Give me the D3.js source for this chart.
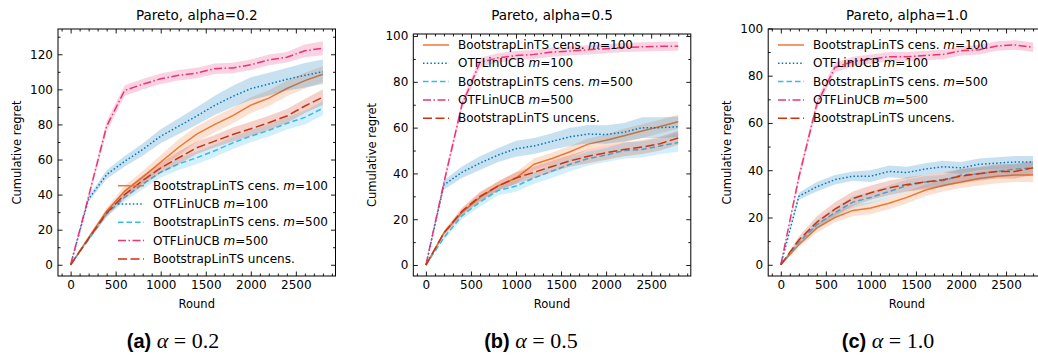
<!DOCTYPE html>
<html>
<head>
<meta charset="utf-8">
<script src="https://cdn.jsdelivr.net/npm/d3@7"></script>
<style>
  body { margin: 0; background: #fff; }
  svg text { font-family: "DejaVu Sans", sans-serif; fill: #000; }
</style>
</head>
<body>
<div id="chart"></div>
<script>
// x values (rounds)
const rounds = [0, 200, 400, 600, 800, 1000, 1200, 1400, 1600, 1800, 2000, 2200, 2400, 2600, 2800];

const seriesNames = ["BootstrapLinTS cens. ", "OTFLinUCB ", "BootstrapLinTS cens. ", "OTFLinUCB ", "BootstrapLinTS uncens."];
const seriesM = ["100", "100", "500", "500", null];
const panelTitles = ["Pareto, alpha=0.2", "Pareto, alpha=0.5", "Pareto, alpha=1.0"];
const captionTags = ["(a)", "(b)", "(c)"];
const captionAlpha = ["0.2", "0.5", "1.0"];

// panel (a) alpha=0.2 : means
const a_censM100 = [0, 15.5, 30.5, 42, 50, 58.5, 67, 74.5, 80, 85, 91, 95, 100.5, 105, 108.6];
const a_otfM100  = [0, 37.5, 51.4, 59, 65.7, 73.3, 79, 84.8, 90.9, 96, 100.4, 103, 105.7, 108, 110];
const a_censM500 = [0, 14.5, 29, 38.5, 46, 52.8, 57.5, 61, 65, 69.5, 73.3, 76.6, 80.6, 84, 89.3];
const a_otfM500  = [0, 39, 79, 99.4, 102.9, 106, 108, 109.3, 111.8, 112.2, 114, 116.8, 118.3, 122, 123.4];
const a_uncens   = [0, 15, 29.5, 40, 48, 55.2, 61, 66.7, 70.5, 74.3, 77.5, 81, 84.8, 90.5, 95.6];
// panel (a) : band half widths
const a_censM100Err = [0, 1, 2, 3, 3.5, 4, 4.5, 4.5, 4.5, 4.5, 4.5, 4.5, 4.5, 4.5, 4.5];
const a_otfM100Err  = [0, 1.5, 2.5, 3, 3.5, 4, 4.5, 5, 5.5, 6, 6.5, 6.5, 6.5, 7, 7];
const a_censM500Err = [0, 1, 2, 2.5, 3, 3, 3.5, 3.5, 3.5, 3.5, 3.5, 3.5, 3.5, 4, 4];
const a_otfM500Err  = [0, 2, 3, 3, 3, 3, 3, 3, 3, 3, 3, 3, 3, 3.5, 4];
const a_uncensErr   = [0, 1, 2, 2.5, 3, 3, 3.5, 3.5, 3.5, 4, 4, 4, 4, 4, 4.5];

// panel (b) alpha=0.5 : means
const b_censM100 = [0, 14, 23, 29.5, 34.5, 38, 44, 46.5, 49.5, 52.8, 54.5, 56.5, 58.5, 60.5, 62.6];
const b_otfM100  = [0, 35, 40.5, 44.5, 48, 50.8, 52, 54, 56, 57.2, 57, 58, 60, 60, 60.4];
const b_censM500 = [0, 12, 21.5, 27.5, 32.5, 34.5, 38, 41, 44, 46.5, 48, 50, 50.5, 52, 53.5];
const b_otfM500  = [0, 36, 70, 88.5, 90.5, 91.5, 92, 93, 93.5, 94, 94.5, 95, 95.3, 95.5, 95.6];
const b_uncens   = [0, 14, 23.5, 30, 34.5, 38, 40.5, 43, 45.5, 47.5, 49, 50.5, 51.5, 53, 55.5];
// panel (b) : band half widths
const b_censM100Err = [0, 1, 1.5, 2, 2, 2.5, 2.5, 2.5, 2.5, 2.5, 2.5, 3, 3, 3, 3];
const b_otfM100Err  = [0, 2, 2.5, 3, 3, 3.5, 3.5, 3.5, 4, 4, 4, 4, 4.5, 4.5, 4.5];
const b_censM500Err = [0, 1, 1.5, 2, 2, 2.5, 2.5, 3, 3, 3, 3, 3.5, 3.5, 3.5, 4];
const b_otfM500Err  = [0, 2, 2, 2, 2, 2, 2, 2, 2, 2, 2, 2, 2, 2, 2];
const b_uncensErr   = [0, 1, 1.5, 2, 2, 2.5, 2.5, 2.5, 2.5, 3, 3, 3, 3, 3, 3];

// panel (c) alpha=1.0 : means
const c_censM100 = [0, 8.5, 15.5, 20, 23, 24, 26, 28.5, 31.5, 33.5, 35, 36.5, 37.5, 38, 38];
const c_otfM100  = [0, 29, 33, 36, 37.5, 37.5, 39.5, 39, 40.5, 41.5, 41, 42.5, 43, 43.5, 43.5];
const c_censM500 = [0, 9.5, 17, 22, 26.5, 28.5, 31, 33.5, 35, 35.5, 38, 38.5, 39.5, 40.5, 41];
const c_otfM500  = [0, 37, 68, 83.5, 86, 87, 88, 88, 88.5, 89, 90.5, 91, 92.6, 93, 92];
const c_uncens   = [0, 10.5, 18, 23.5, 28, 30.5, 32.5, 34, 35, 36, 37.5, 38.5, 39.5, 39.5, 41];
// panel (c) : band half widths
const c_censM100Err = [0, 1, 2, 2, 2.5, 2.5, 2.5, 2.5, 2.5, 2.5, 2.5, 3, 3, 3, 3];
const c_otfM100Err  = [0, 1.5, 2, 2, 2, 2.5, 2.5, 2.5, 2.5, 2.5, 2.5, 2.5, 2.5, 2.5, 2.5];
const c_censM500Err = [0, 1, 2, 2, 2.5, 2.5, 2.5, 2.5, 2.5, 2.5, 2.5, 2.5, 2.5, 2.5, 2.5];
const c_otfM500Err  = [0, 2, 2, 2, 2, 2, 2, 2, 2, 2, 2, 2, 2, 2, 2];
const c_uncensErr   = [0, 1.5, 2.5, 3, 3, 3, 3, 3, 3, 3, 3, 3, 3, 3, 3];

// tick labels
const xTicks = [0, 500, 1000, 1500, 2000, 2500];
const yTicksA = [0, 20, 40, 60, 80, 100, 120];
const yTicksBC = [0, 20, 40, 60, 80, 100];

// Styles (vibrant palette)
const colors = ["#EE7733", "#0077BB", "#33BBEE", "#EE3377", "#CC3311"];
const dashes = [null, "1.5,2.2", "5.5,3", "8,2.5,1.5,2.5", "9,3.5"];

// Layout
const W = 1038, H = 360;
const plotW = 277.5, plotBottom = 276;
const panelLeft = [58, 413.3, 768.2];
const panelTop = [29, 34, 29];
const yDomains = [[-6.4, 134.4], [-4.8, 100.9], [-4.75, 99.75]];
const legendPos = [{ x: 118, y: 185.7 }, { x: 423, y: 45 }, { x: 778, y: 45 }];
const ylabelX = [17, 371.7, 726.7];
const captionX = [173, 531, 888];

const panels = [
    { means: [a_censM100, a_otfM100, a_censM500, a_otfM500, a_uncens],
      errs: [a_censM100Err, a_otfM100Err, a_censM500Err, a_otfM500Err, a_uncensErr], yTicks: yTicksA },
    { means: [b_censM100, b_otfM100, b_censM500, b_otfM500, b_uncens],
      errs: [b_censM100Err, b_otfM100Err, b_censM500Err, b_otfM500Err, b_uncensErr], yTicks: yTicksBC },
    { means: [c_censM100, c_otfM100, c_censM500, c_otfM500, c_uncens],
      errs: [c_censM100Err, c_otfM100Err, c_censM500Err, c_otfM500Err, c_uncensErr], yTicks: yTicksBC }
];

const svg = d3.select("#chart")
    .append("svg")
    .attr("width", W)
    .attr("height", H);

panels.forEach(function (p, pi) {
    const left = panelLeft[pi], top = panelTop[pi];
    const plotH = plotBottom - top;

    const x = d3.scaleLinear().domain([-140, 2940]).range([0, plotW]);
    const y = d3.scaleLinear().domain(yDomains[pi]).range([plotH, 0]);

    const g = svg.append("g").attr("transform", `translate(${left},${top})`);

    // clip
    g.append("clipPath").attr("id", "clip" + pi)
        .append("rect").attr("width", plotW).attr("height", plotH);
    const plot = g.append("g").attr("clip-path", `url(#clip${pi})`);

    // bands and lines
    p.means.forEach(function (vals, si) {
        const pts = rounds.map((r, k) => ({ r: r, v: vals[k], e: p.errs[si][k] }));
        plot.append("path")
            .datum(pts)
            .attr("fill", colors[si])
            .attr("fill-opacity", 0.22)
            .attr("stroke", "none")
            .attr("d", d3.area()
                .x(d => x(d.r))
                .y0(d => y(d.v - d.e))
                .y1(d => y(d.v + d.e)));
        plot.append("path")
            .datum(pts)
            .attr("fill", "none")
            .attr("stroke", colors[si])
            .attr("stroke-width", 1.5)
            .attr("stroke-dasharray", dashes[si])
            .attr("d", d3.line().x(d => x(d.r)).y(d => y(d.v)));
    });

    // ticks inward on all sides
    const xMinor = d3.range(-100, 2941, 100).filter(v => v % 500 !== 0);
    const yMinor = d3.range(Math.ceil(yDomains[pi][0] / 10) * 10, yDomains[pi][1], 10).filter(v => v % 20 !== 0);

    const axB = d3.axisBottom(x).tickValues(xTicks).tickSizeInner(-4.5).tickSizeOuter(0).tickPadding(4).tickFormat(d3.format("d"));
    const axT = d3.axisTop(x).tickValues(xTicks).tickSizeInner(-4.5).tickSizeOuter(0).tickFormat("");
    const axL = d3.axisLeft(y).tickValues(p.yTicks).tickSizeInner(-4.5).tickSizeOuter(0).tickPadding(5);
    const axR = d3.axisRight(y).tickValues(p.yTicks).tickSizeInner(-4.5).tickSizeOuter(0).tickFormat("");

    const mB = d3.axisBottom(x).tickValues(xMinor).tickSize(-2.5).tickFormat("");
    const mT = d3.axisTop(x).tickValues(xMinor).tickSize(-2.5).tickFormat("");
    const mL = d3.axisLeft(y).tickValues(yMinor).tickSize(-2.5).tickFormat("");
    const mR = d3.axisRight(y).tickValues(yMinor).tickSize(-2.5).tickFormat("");

    [[axB, mB, `translate(0,${plotH})`], [axT, mT, null], [axL, mL, null], [axR, mR, `translate(${plotW},0)`]]
        .forEach(function (a) {
            const ga = g.append("g").attr("transform", a[2]).call(a[0]);
            g.append("g").attr("transform", a[2]).call(a[1]).select(".domain").remove();
            ga.select(".domain").remove();
            ga.selectAll("text").style("font-size", "12px");
            g.selectAll(".tick line").attr("stroke", "#000").attr("stroke-width", 0.9);
        });

    // frame
    g.append("rect")
        .attr("width", plotW).attr("height", plotH)
        .attr("fill", "none").attr("stroke", "#000").attr("stroke-width", 1);

    // title and labels
    svg.append("text")
        .attr("x", left + plotW / 2).attr("y", 19.5)
        .attr("text-anchor", "middle")
        .style("font-size", "13.5px")
        .text(panelTitles[pi]);
    svg.append("text")
        .attr("x", left + plotW / 2).attr("y", 308)
        .attr("text-anchor", "middle")
        .style("font-size", "11.5px")
        .text("Round");
    svg.append("text")
        .attr("transform", `translate(${ylabelX[pi]},${(top + plotBottom) / 2}) rotate(-90)`)
        .attr("text-anchor", "middle")
        .attr("dominant-baseline", "central")
        .style("font-size", "11.5px")
        .text("Cumulative regret");

    // legend
    const lg = svg.append("g").attr("transform", `translate(${legendPos[pi].x},${legendPos[pi].y})`);
    seriesNames.forEach(function (name, si) {
        const row = lg.append("g").attr("transform", `translate(0,${si * 18.3})`);
        row.append("line")
            .attr("x1", 0).attr("x2", 26).attr("y1", 0).attr("y2", 0)
            .attr("stroke", colors[si]).attr("stroke-width", 1.5)
            .attr("stroke-dasharray", dashes[si]);
        const t = row.append("text")
            .attr("x", 35).attr("y", 0)
            .attr("dominant-baseline", "central")
            .style("font-size", "12px");
        t.append("tspan").text(name);
        if (seriesM[si]) {
            t.append("tspan").style("font-style", "italic").text("m");
            t.append("tspan").text("=" + seriesM[si]);
        }
    });

    // caption
    const cap = svg.append("text")
        .attr("x", captionX[pi]).attr("y", 348)
        .attr("text-anchor", "middle");
    cap.append("tspan")
        .style("font-family", "'Liberation Sans', Arial, sans-serif")
        .style("font-weight", "bold")
        .style("font-size", "20px")
        .text(captionTags[pi] + " ");
    cap.append("tspan")
        .style("font-family", "'Liberation Serif', serif")
        .style("font-style", "italic")
        .style("font-size", "22px")
        .text("α");
    cap.append("tspan")
        .style("font-family", "'Liberation Serif', serif")
        .style("font-size", "22px")
        .text(" = " + captionAlpha[pi]);
});
</script>
</body>
</html>
